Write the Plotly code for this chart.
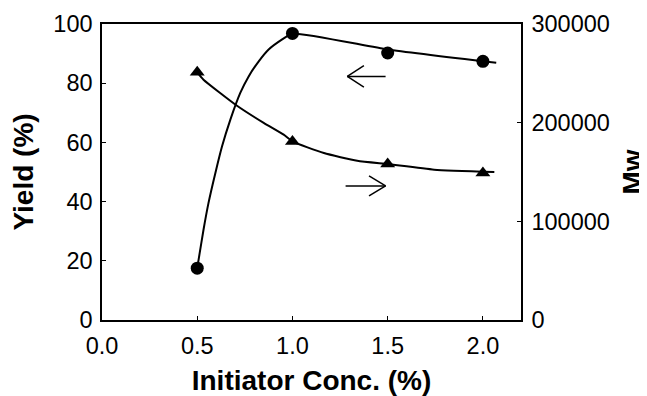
import plotly.graph_objects as go

# ---- data ----
conc = [0.5, 1.0, 1.5, 2.0]                      # Initiator Conc. (%)
yield_pct = [17.5, 96.8, 90.2, 87.4]             # Yield (%)  (circles, left axis)
mw = [251000, 181000, 158000, 149000]            # Mw         (triangles, right axis)

# fitted curves as traced on the picture
yield_curve_x = [0.5, 0.507, 0.533, 0.559, 0.595, 0.630, 0.674, 0.726, 0.770, 0.823, 0.875, 0.946, 1.0, 1.5, 2.07]
yield_curve_y = [17.5, 20.3, 30.5, 39.5, 49.6, 58.6, 67.7, 76.7, 82.3, 87.4, 91.4, 94.8, 96.8, 91.4, 86.9]
mw_curve_x = [0.5, 0.533, 0.709, 0.849, 0.954, 1.0, 1.165, 1.34, 1.5, 1.744, 2.06]
mw_curve_y = [251000, 243600, 217200, 199800, 187800, 181000, 169200, 161400, 158000, 152400, 150000]

x_ticks = [0.0, 0.5, 1.0, 1.5, 2.0]
x_ticktext = ["0.0", "0.5", "1.0", "1.5", "2.0"]
y_ticks = [0, 20, 40, 60, 80, 100]
y2_ticks = [0, 100000, 200000, 300000]
y2_ticktext = ["0", "100000", "200000", "300000"]

FONT = "Liberation Sans, Arial, sans-serif"
BLACK = "black"

fig = go.Figure()
fig.add_trace(go.Scatter(x=yield_curve_x, y=yield_curve_y, mode="lines",
                         line=dict(color=BLACK, width=2, shape="spline", smoothing=0.5),
                         yaxis="y", hoverinfo="skip", showlegend=False))
fig.add_trace(go.Scatter(x=conc, y=yield_pct, mode="markers",
                         marker=dict(symbol="circle", size=13, color=BLACK),
                         yaxis="y", name="Yield", showlegend=False))
fig.add_trace(go.Scatter(x=mw_curve_x, y=mw_curve_y, mode="lines",
                         line=dict(color=BLACK, width=2, shape="spline", smoothing=0.5),
                         yaxis="y2", hoverinfo="skip", showlegend=False))
fig.add_trace(go.Scatter(x=conc, y=mw, mode="markers",
                         marker=dict(symbol="triangle-up", size=13, color=BLACK),
                         yaxis="y2", name="Mw", showlegend=False))

# direction arrows (left: Yield axis, right: Mw axis)
def arrow(x_tail, x_tip, y, head_dx, head_dy):
    return [
        dict(type="line", xref="x", yref="y", x0=x_tail, x1=x_tip, y0=y, y1=y,
             line=dict(color=BLACK, width=1.5)),
        dict(type="line", xref="x", yref="y", x0=x_tip, x1=x_tip + head_dx, y0=y, y1=y + head_dy,
             line=dict(color=BLACK, width=1.5)),
        dict(type="line", xref="x", yref="y", x0=x_tip, x1=x_tip + head_dx, y0=y, y1=y - head_dy,
             line=dict(color=BLACK, width=1.5)),
    ]

shapes = arrow(1.489, 1.288, 82.3, 0.087, 3.6) + arrow(1.279, 1.489, 45.3, -0.087, 3.4)

tickfont = dict(family=FONT, size=23.5, color=BLACK)
titlefont = dict(family=FONT, size=28, color=BLACK, weight="bold")

# the page adds an 8px body margin, so the figure is sized/offset to compensate
fig.update_layout(
    width=639, height=388,
    margin=dict(l=94, r=126, t=16, b=76, autoexpand=False),
    paper_bgcolor="white", plot_bgcolor="white",
    showlegend=False,
    shapes=shapes,
    annotations=[dict(text="Mw", xref="paper", yref="paper", x=1.266, y=0.5,
                      xanchor="center", yanchor="middle", textangle=-90,
                      showarrow=False, font=titlefont)],
    xaxis=dict(range=[0, 2.2], tickvals=x_ticks, ticktext=x_ticktext,
               ticks="inside", ticklen=4, tickwidth=1, tickcolor=BLACK,
               showline=True, linecolor=BLACK, linewidth=1.5, mirror=True,
               showgrid=False, zeroline=False, tickfont=tickfont, automargin=False,
               ticklabelstandoff=4,
               title=dict(text="Initiator Conc. (%)", font=titlefont, standoff=19)),
    yaxis=dict(range=[0, 100], tickvals=y_ticks,
               ticks="inside", ticklen=4, tickwidth=1, tickcolor=BLACK,
               showline=True, linecolor=BLACK, linewidth=1.5,
               showgrid=False, zeroline=False, tickfont=tickfont, automargin=False,
               ticklabelstandoff=3,
               title=dict(text="Yield (%)", font=titlefont, standoff=14)),
    yaxis2=dict(range=[0, 300000], tickvals=y2_ticks, ticktext=y2_ticktext,
                overlaying="y", side="right",
                ticks="inside", ticklen=4, tickwidth=1, tickcolor=BLACK,
                showline=True, linecolor=BLACK, linewidth=1.5,
                showgrid=False, zeroline=False, tickfont=tickfont, automargin=False,
                ticklabelstandoff=4),
)

fig.write_html("out.html")
